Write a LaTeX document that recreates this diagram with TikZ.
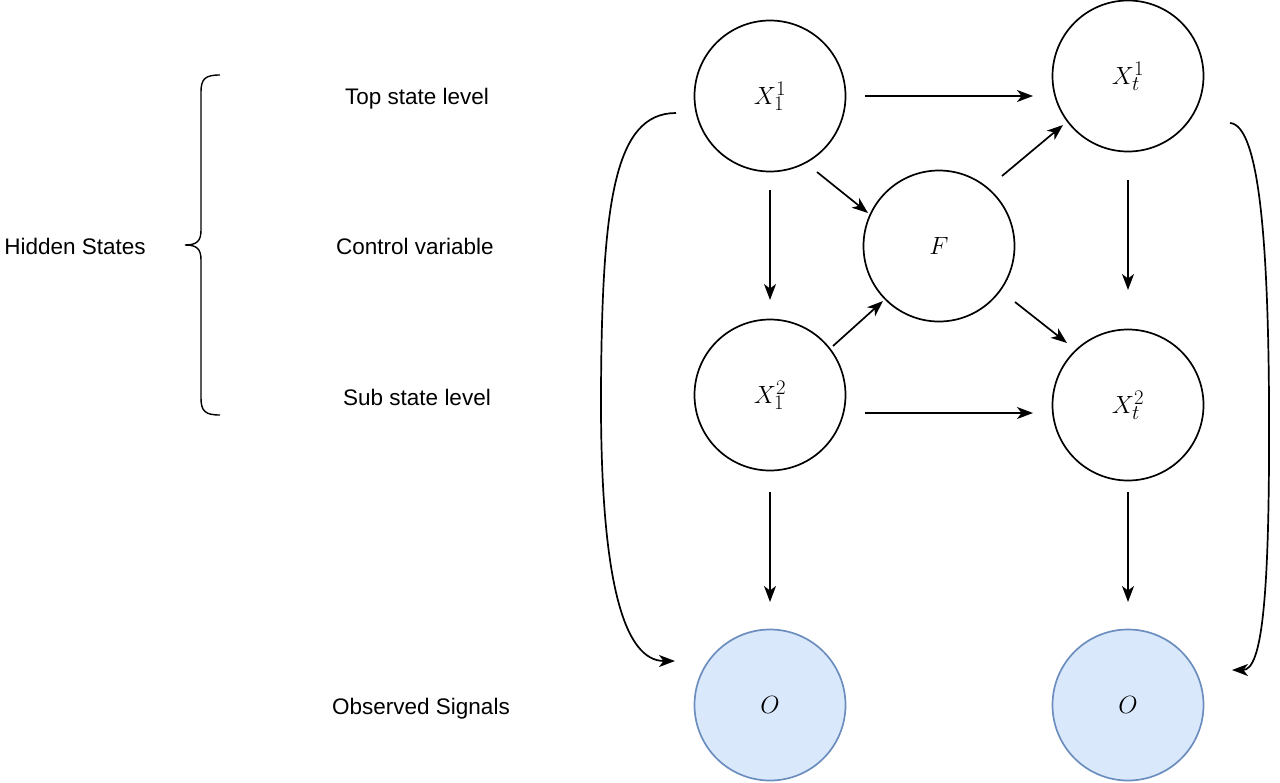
\documentclass[tikz,border=0pt]{standalone}
\usepackage{fontspec}
\setmainfont{Liberation Sans}
\usetikzlibrary{arrows.meta,calc}
\definecolor{obsfill}{HTML}{DAE8FC}
\definecolor{obsdraw}{HTML}{6C8EBF}
\tikzset{
  state/.style={circle,draw=black,line width=1.7pt,minimum size=151pt,inner sep=0pt,font=\fontsize{29}{34}\selectfont},
  obs/.style={state,draw=obsdraw,fill=obsfill},
  lbl/.style={font=\fontsize{22.5}{27}\selectfont,inner sep=0pt,text depth=0pt},
  arr/.style={line width=1.7pt,-{Stealth[length=16pt,width=12pt,inset=4.5pt]}},
  brace/.style={line width=1.4pt}
}
\begin{document}
\begin{tikzpicture}[x=1pt,y=-1pt]
\useasboundingbox (0,0) rectangle (1280,782);
% nodes
\node[state] (X11) at (770,96) {$X_1^1$};
\node[state] (Xt1) at (1128,76) {$X_t^1$};
\node[state] (F) at (939,246) {$F$};
\node[state] (X12) at (770,395) {$X_1^2$};
\node[state] (Xt2) at (1128,405) {$X_t^2$};
\node[obs] (O1) at (770,705) {$O$};
\node[obs] (O2) at (1128,705) {$O$};
% labels
\node[lbl] (top) at (417,96) {Top state level};
\node[lbl] (ctrl) at (415,246) {Control variable};
\node[lbl] (sub) at (417,397) {Sub state level};
\node[lbl] (obsl) at (421,706) {Observed Signals};
\node[lbl] (hid) at (75,246) {Hidden States};
% brace
\coordinate (btop) at (220,75);
\coordinate (btip) at (185,245);
\coordinate (bbot) at (220,415);
\draw[brace] (btop) .. controls (205,75) and (201,79) .. (201,92) -- (201,230)
  .. controls (201,241) and (197,245) .. (btip)
  .. controls (197,245) and (201,249) .. (201,260) -- (201,398)
  .. controls (201,411) and (205,415) .. (bbot);
% straight arrows
\draw[arr] ($(X11)+(95,0)$) -- ($(Xt1)+(-95,20)$);
\draw[arr] ($(X12)+(95,18)$) -- ($(Xt2)+(-95,8)$);
\draw[arr] ($(X11)+(0,94)$) -- ($(X12)+(0,-95)$);
\draw[arr] ($(Xt1)+(0,104)$) -- ($(Xt2)+(0,-115)$);
\draw[arr] ($(X12)+(0,97)$) -- ($(O1)+(0,-103)$);
\draw[arr] ($(Xt2)+(0,87)$) -- ($(O2)+(0,-103)$);
% diagonal arrows
\draw[arr] ($(X11)+(47,76)$) -- ($(F)+(-71,-33)$);
\draw[arr] ($(X12)+(63,-49)$) -- ($(F)+(-56,55)$);
\draw[arr] ($(F)+(63,-70)$) -- ($(Xt1)+(-65,49)$);
\draw[arr] ($(F)+(76,56)$) -- ($(Xt2)+(-61,-62)$);
% curved arrows
\draw[arr] ($(X11)+(-94,17)$) .. controls (615,113) and (602,200) .. (601,390)
  .. controls (600,585) and (625,661) .. ($(O1)+(-95,-44)$);
\draw[arr] ($(Xt1)+(102,47)$) .. controls (1260,125) and (1268,250) .. (1269,400)
  .. controls (1270,600) and (1262,670) .. ($(O2)+(104,-35)$);
\end{tikzpicture}
\end{document}
